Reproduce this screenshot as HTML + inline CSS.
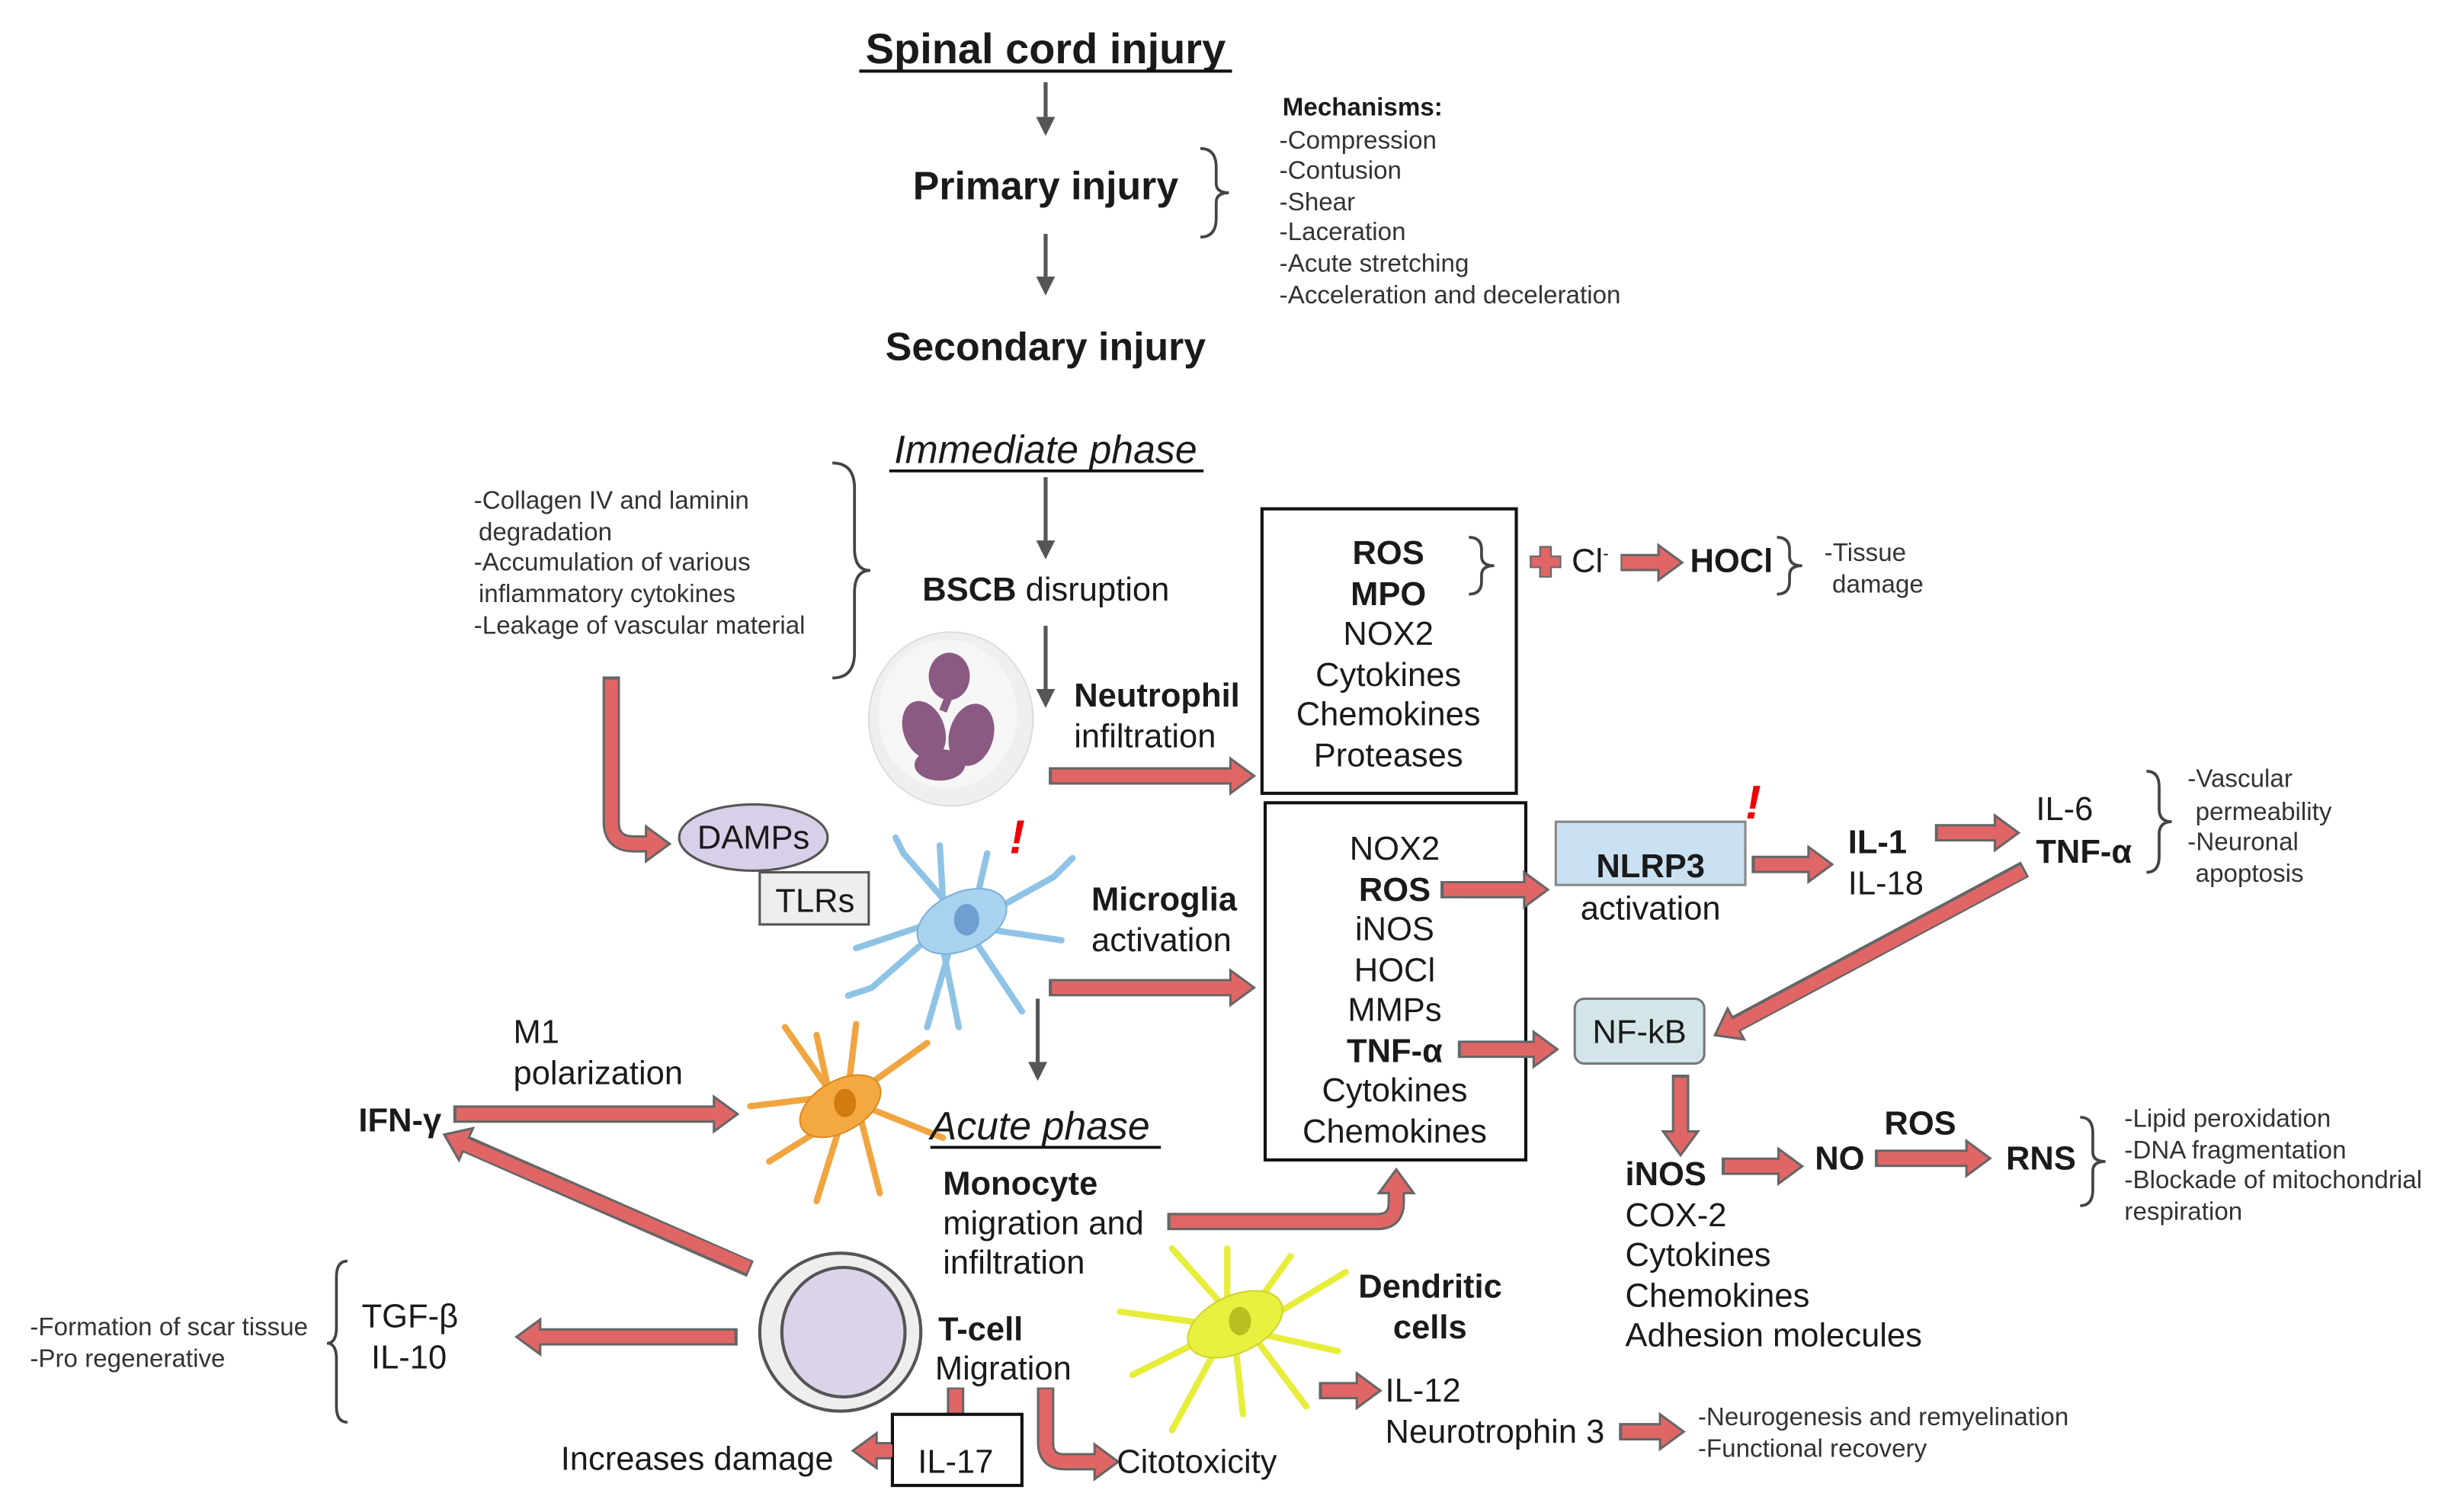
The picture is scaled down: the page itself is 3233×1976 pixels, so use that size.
<!DOCTYPE html>
<html><head><meta charset="utf-8"><style>
html,body{margin:0;padding:0;background:#fff;}
svg{display:block;}
text{font-family:"Liberation Sans",Arial,sans-serif;fill:#1a1a1a;}
.b{font-weight:bold;}
.s{font-size:16px;fill:#333;}
.m{font-size:21px;}
.c{text-anchor:middle;}
</style></head><body>
<svg width="3233" height="1976" viewBox="3 0 1560 953" preserveAspectRatio="none" xmlns="http://www.w3.org/2000/svg">
<defs>
<marker id="h" markerUnits="userSpaceOnUse" markerWidth="20" markerHeight="24" refX="0" refY="11" orient="auto" overflow="visible">
<path d="M0,0 L15,11 L0,22 z" fill="#e06666" stroke="#666" stroke-width="1.5"/>
</marker>
<marker id="g" markerUnits="userSpaceOnUse" markerWidth="12" markerHeight="14" refX="0" refY="6" orient="auto" overflow="visible">
<path d="M0,0 L12,6 L0,12 z" fill="#555"/>
</marker>
</defs>
<style>
.ro{fill:none;stroke:#666;stroke-width:11;marker-end:url(#h);}
.ri{fill:none;stroke:#e06666;stroke-width:8;}
.ga{stroke:#555;stroke-width:2.5;marker-end:url(#g);}
.br{fill:none;stroke:#444;stroke-width:1.8;}
</style>

<!-- Top -->
<text x="665" y="40" class="b c" font-size="27">Spinal cord injury</text>
<line x1="547" y1="45" x2="783" y2="45" stroke="#111" stroke-width="2"/>
<line x1="665" y1="52" x2="665" y2="74" class="ga"/>
<text x="665" y="126" class="b c" font-size="25">Primary injury</text>
<path class="br" d="M763,94 q10,0 10,12 v10 q0,6 8,6 q-8,0 -8,6 v10 q0,12 -10,12"/>
<line x1="665" y1="148" x2="665" y2="175" class="ga"/>
<text x="665" y="228" class="b c" font-size="25">Secondary injury</text>
<text x="815" y="73" class="b" font-size="16">Mechanisms:</text>
<text x="813" y="94" class="s">-Compression</text>
<text x="813" y="113" class="s">-Contusion</text>
<text x="813" y="133" class="s">-Shear</text>
<text x="813" y="152" class="s">-Laceration</text>
<text x="813" y="172" class="s">-Acute stretching</text>
<text x="813" y="192" class="s">-Acceleration and deceleration</text>

<!-- Immediate -->
<text x="665" y="293" class="c" font-size="25" font-style="italic">Immediate phase</text>
<line x1="566" y1="298" x2="765" y2="298" stroke="#111" stroke-width="1.8"/>
<line x1="665" y1="302" x2="665" y2="342" class="ga"/>
<text x="587" y="380" class="m"><tspan class="b">BSCB</tspan> disruption</text>
<line x1="665" y1="396" x2="665" y2="436" class="ga"/>
<text x="303" y="322" class="s">-Collagen IV and laminin</text>
<text x="306" y="342" class="s">degradation</text>
<text x="303" y="361" class="s">-Accumulation of various</text>
<text x="306" y="381" class="s">inflammatory cytokines</text>
<text x="303" y="401" class="s">-Leakage of vascular material</text>
<path class="br" d="M530,293 q14,0 14,16 v38 q0,14 10,14 q-10,0 -10,14 v38 q0,16 -14,16"/>

<!-- Neutrophil -->
<ellipse cx="605" cy="455" rx="52" ry="55" fill="#efefef" stroke="#ddd"/>
<ellipse cx="603" cy="452" rx="44" ry="47" fill="#f6f6f6"/>
<ellipse cx="604" cy="428" rx="13" ry="15" fill="#8a5a82"/>
<ellipse cx="588" cy="462" rx="13" ry="19" fill="#8a5a82" transform="rotate(-20 588 462)"/>
<ellipse cx="618" cy="465" rx="14" ry="20" fill="#8a5a82" transform="rotate(15 618 465)"/>
<ellipse cx="598" cy="484" rx="16" ry="10" fill="#8a5a82"/>
<path d="M604,440 L600,450" stroke="#8a5a82" stroke-width="5"/>
<text x="683" y="447" class="b m">Neutrophil</text>
<text x="683" y="473" class="m">infiltration</text>
<path class="ro" d="M667,491 H782"/><path class="ri" d="M669,491 H783"/>

<!-- Box1 -->
<rect x="802" y="322" width="161" height="180" fill="#fff" stroke="#111" stroke-width="2"/>
<text x="882" y="357" class="b c m">ROS</text>
<text x="882" y="383" class="b c m">MPO</text>
<text x="882" y="408" class="c m">NOX2</text>
<text x="882" y="434" class="c m">Cytokines</text>
<text x="882" y="459" class="c m">Chemokines</text>
<text x="882" y="485" class="c m">Proteases</text>
<path class="br" d="M933,340 q8,0 8,8 v4 q0,6 8,6 q-8,0 -8,6 v4 q0,8 -8,8"/>
<path d="M978,346 h7 v6 h6 v7 h-6 v6 h-7 v-6 h-6 v-7 h6z" fill="#e06666" stroke="#666"/>
<text x="998" y="362" class="m">Cl<tspan font-size="11" dy="-8">-</tspan></text>
<path class="ro" d="M1029,356 H1053"/><path class="ri" d="M1030,356 H1054"/>
<text x="1073" y="362" class="b m">HOCl</text>
<path class="br" d="M1128,340 q8,0 8,8 v4 q0,6 8,6 q-8,0 -8,6 v4 q0,8 -8,8"/>
<text x="1158" y="355" class="s">-Tissue</text>
<text x="1163" y="375" class="s">damage</text>

<!-- Box2 -->
<rect x="804" y="508" width="165" height="226" fill="#fff" stroke="#111" stroke-width="2"/>
<text x="886" y="544" class="c m">NOX2</text>
<text x="886" y="570" class="b c m">ROS</text>
<text x="886" y="595" class="c m">iNOS</text>
<text x="886" y="621" class="c m">HOCl</text>
<text x="886" y="646" class="c m">MMPs</text>
<text x="886" y="672" class="b c m">TNF-α</text>
<text x="886" y="697" class="c m">Cytokines</text>
<text x="886" y="723" class="c m">Chemokines</text>
<path class="ro" d="M915,563 H968"/><path class="ri" d="M917,563 H969"/>
<path class="ro" d="M926,664 H974"/><path class="ri" d="M928,664 H975"/>

<!-- NLRP3 -->
<rect x="988" y="520" width="120" height="40" fill="#c9e1f2" stroke="#888" stroke-width="1.5"/>
<text x="1048" y="555" class="b c m">NLRP3</text>
<text x="1048" y="582" class="c m">activation</text>
<text x="1113" y="518" class="b c" font-size="30" style="fill:#e00" font-style="italic">!</text>
<path class="ro" d="M1112,547 H1148"/><path class="ri" d="M1114,547 H1149"/>
<text x="1173" y="540" class="b m">IL-1</text>
<text x="1173" y="566" class="m">IL-18</text>
<path class="ro" d="M1228,527 H1266"/><path class="ri" d="M1230,527 H1267"/>
<text x="1292" y="519" class="m">IL-6</text>
<text x="1292" y="546" class="b m">TNF-α</text>
<path class="br" d="M1362,488 q8,0 8,10 v14 q0,8 8,8 q-8,0 -8,8 v14 q0,10 -8,10"/>
<text x="1388" y="498" class="s">-Vascular</text>
<text x="1393" y="519" class="s">permeability</text>
<text x="1388" y="538" class="s">-Neuronal</text>
<text x="1393" y="558" class="s">apoptosis</text>
<path class="ro" d="M1285,550 L1102,648"/><path class="ri" d="M1284,551 L1101,649"/>

<!-- NF-kB -->
<rect x="1000" y="632" width="82" height="41" rx="6" fill="#d3e5e8" stroke="#777" stroke-width="1.5"/>
<text x="1041" y="660" class="c m">NF-kB</text>
<path class="ro" d="M1067,680 V716"/><path class="ri" d="M1067,682 V717"/>
<text x="1032" y="750" class="b m">iNOS</text>
<text x="1032" y="776" class="m">COX-2</text>
<text x="1032" y="801" class="m">Cytokines</text>
<text x="1032" y="827" class="m">Chemokines</text>
<text x="1032" y="852" class="m">Adhesion molecules</text>
<path class="ro" d="M1093,738 H1129"/><path class="ri" d="M1095,738 H1130"/>
<text x="1152" y="740" class="b m">NO</text>
<text x="1196" y="718" class="b m">ROS</text>
<path class="ro" d="M1190,733 H1248"/><path class="ri" d="M1192,733 H1249"/>
<text x="1273" y="740" class="b m">RNS</text>
<path class="br" d="M1320,707 q8,0 8,10 v12 q0,6 8,6 q-8,0 -8,6 v12 q0,10 -8,10"/>
<text x="1348" y="713" class="s">-Lipid peroxidation</text>
<text x="1348" y="733" class="s">-DNA fragmentation</text>
<text x="1348" y="752" class="s">-Blockade of mitochondrial</text>
<text x="1348" y="772" class="s">respiration</text>

<!-- DAMPs -->
<path class="ro" d="M390,428 V520 Q390,534 404,534 H412"/><path class="ri" d="M390,430 V520 Q390,534 404,534 H413"/>
<ellipse cx="480" cy="530" rx="47" ry="21" fill="#d9cfe9" stroke="#555" stroke-width="1.5"/>
<text x="480" y="537" class="c m">DAMPs</text>
<rect x="484" y="552" width="69" height="33" fill="#eee" stroke="#555" stroke-width="1.5"/>
<text x="519" y="577" class="c m">TLRs</text>

<!-- Microglia -->
<g stroke="#8fc3e6" stroke-width="4" fill="none" stroke-linecap="round">
<path d="M610,580 L575,540 M575,540 l-5,-10 M600,570 L598,535 M620,575 L628,540 M625,580 L670,555 M670,555 l12,-12 M628,588 L675,595 M620,595 L650,640 M605,598 L590,650 M595,590 L555,625 M555,625 l-15,5 M590,585 L545,600 M600,600 L610,650"/>
</g>
<ellipse cx="612" cy="583" rx="30" ry="18" fill="#a9d2f0" stroke="#7fb0d6" transform="rotate(-25 612 583)"/>
<ellipse cx="615" cy="582" rx="8" ry="10" fill="#6f9fd1"/>
<text x="647" y="540" class="b c" font-size="30" style="fill:#e00" font-style="italic">!</text>
<text x="694" y="576" class="b m">Microglia</text>
<text x="694" y="602" class="m">activation</text>
<path class="ro" d="M667,625 H782"/><path class="ri" d="M669,625 H783"/>
<line x1="660" y1="632" x2="660" y2="672" class="ga"/>

<!-- Orange macrophage -->
<g stroke="#f0a540" stroke-width="4" fill="none" stroke-linecap="round">
<path d="M535,700 L500,650 M520,695 L478,700 M530,710 L490,735 M535,712 L520,760 M548,708 L560,755 M550,700 L600,720 M548,690 L590,660 M540,690 L545,648 M528,692 L520,655"/>
</g>
<ellipse cx="535" cy="700" rx="28" ry="16" fill="#f4a940" stroke="#d98a20" transform="rotate(-30 535 700)"/>
<ellipse cx="538" cy="698" rx="7" ry="9" fill="#d07a10"/>
<text x="592" y="721" font-size="25" font-style="italic">Acute phase</text>
<line x1="592" y1="726" x2="738" y2="726" stroke="#111" stroke-width="1.8"/>

<text x="328" y="660" class="m">M1</text>
<text x="328" y="686" class="m">polarization</text>
<text x="230" y="716" class="b m">IFN-γ</text>
<path class="ro" d="M290,705 H455"/><path class="ri" d="M292,705 H456"/>
<path class="ro" d="M478,803 L298,724"/><path class="ri" d="M477,802 L297,724"/>

<text x="600" y="756" class="b m">Monocyte</text>
<text x="600" y="781" class="m">migration and</text>
<text x="600" y="806" class="m">infiltration</text>
<path class="ro" d="M742,773 H875 Q887,773 887,761 V755"/><path class="ri" d="M744,773 H875 Q887,773 887,761 V754"/>

<!-- T-cell -->
<ellipse cx="535" cy="843" rx="51" ry="50" fill="#eee" stroke="#555" stroke-width="2"/>
<ellipse cx="537" cy="843" rx="39" ry="41" fill="#dcd3ea" stroke="#555" stroke-width="2"/>
<text x="597" y="848" class="b m">T-cell</text>
<text x="595" y="873" class="m">Migration</text>
<path class="ro" d="M470,846 H345"/><path class="ri" d="M468,846 H344"/>
<text x="232" y="840" class="m">TGF-β</text>
<text x="238" y="866" class="m">IL-10</text>
<path class="br" d="M223,798 q-7,0 -7,10 v32 q0,10 -6,10 q6,0 6,10 v30 q0,10 7,10"/>
<text x="22" y="845" class="s">-Formation of scar tissue</text>
<text x="22" y="865" class="s">-Pro regenerative</text>

<path d="M608,878 V896" stroke="#666" stroke-width="11"/><path d="M608,879 V897" stroke="#e06666" stroke-width="8"/>
<rect x="568" y="895" width="82" height="45" fill="#fff" stroke="#111" stroke-width="2"/>
<text x="608" y="932" class="c m">IL-17</text>
<path class="ro" d="M567,918 H558"/><path class="ri" d="M568,918 H557"/>
<text x="358" y="930" class="m">Increases damage</text>
<path class="ro" d="M665,878 V913 Q665,925 677,925 H696"/><path class="ri" d="M665,879 V913 Q665,925 677,925 H697"/>
<text x="710" y="932" class="m">Citotoxicity</text>

<!-- Dendritic -->
<g stroke="#e6ee3a" stroke-width="4" fill="none" stroke-linecap="round">
<path d="M785,835 L745,790 M780,830 L780,790 M795,830 L820,795 M805,835 L855,805 M805,845 L850,855 M800,850 L830,890 M785,850 L790,895 M775,850 L745,905 M770,845 L720,870 M770,838 L712,830"/>
</g>
<ellipse cx="785" cy="838" rx="32" ry="18" fill="#e8f040" stroke="#cdd52a" transform="rotate(-25 785 838)"/>
<ellipse cx="788" cy="836" rx="7" ry="9" fill="#b8c020"/>
<text x="863" y="821" class="b m">Dendritic</text>
<text x="885" y="847" class="b m">cells</text>
<path class="ro" d="M838,880 H862"/><path class="ri" d="M840,880 H863"/>
<text x="880" y="887" class="m">IL-12</text>
<text x="880" y="913" class="m">Neurotrophin 3</text>
<path class="ro" d="M1028,906 H1054"/><path class="ri" d="M1030,906 H1055"/>
<text x="1078" y="902" class="s">-Neurogenesis and remyelination</text>
<text x="1078" y="922" class="s">-Functional recovery</text>
</svg>
</body></html>
